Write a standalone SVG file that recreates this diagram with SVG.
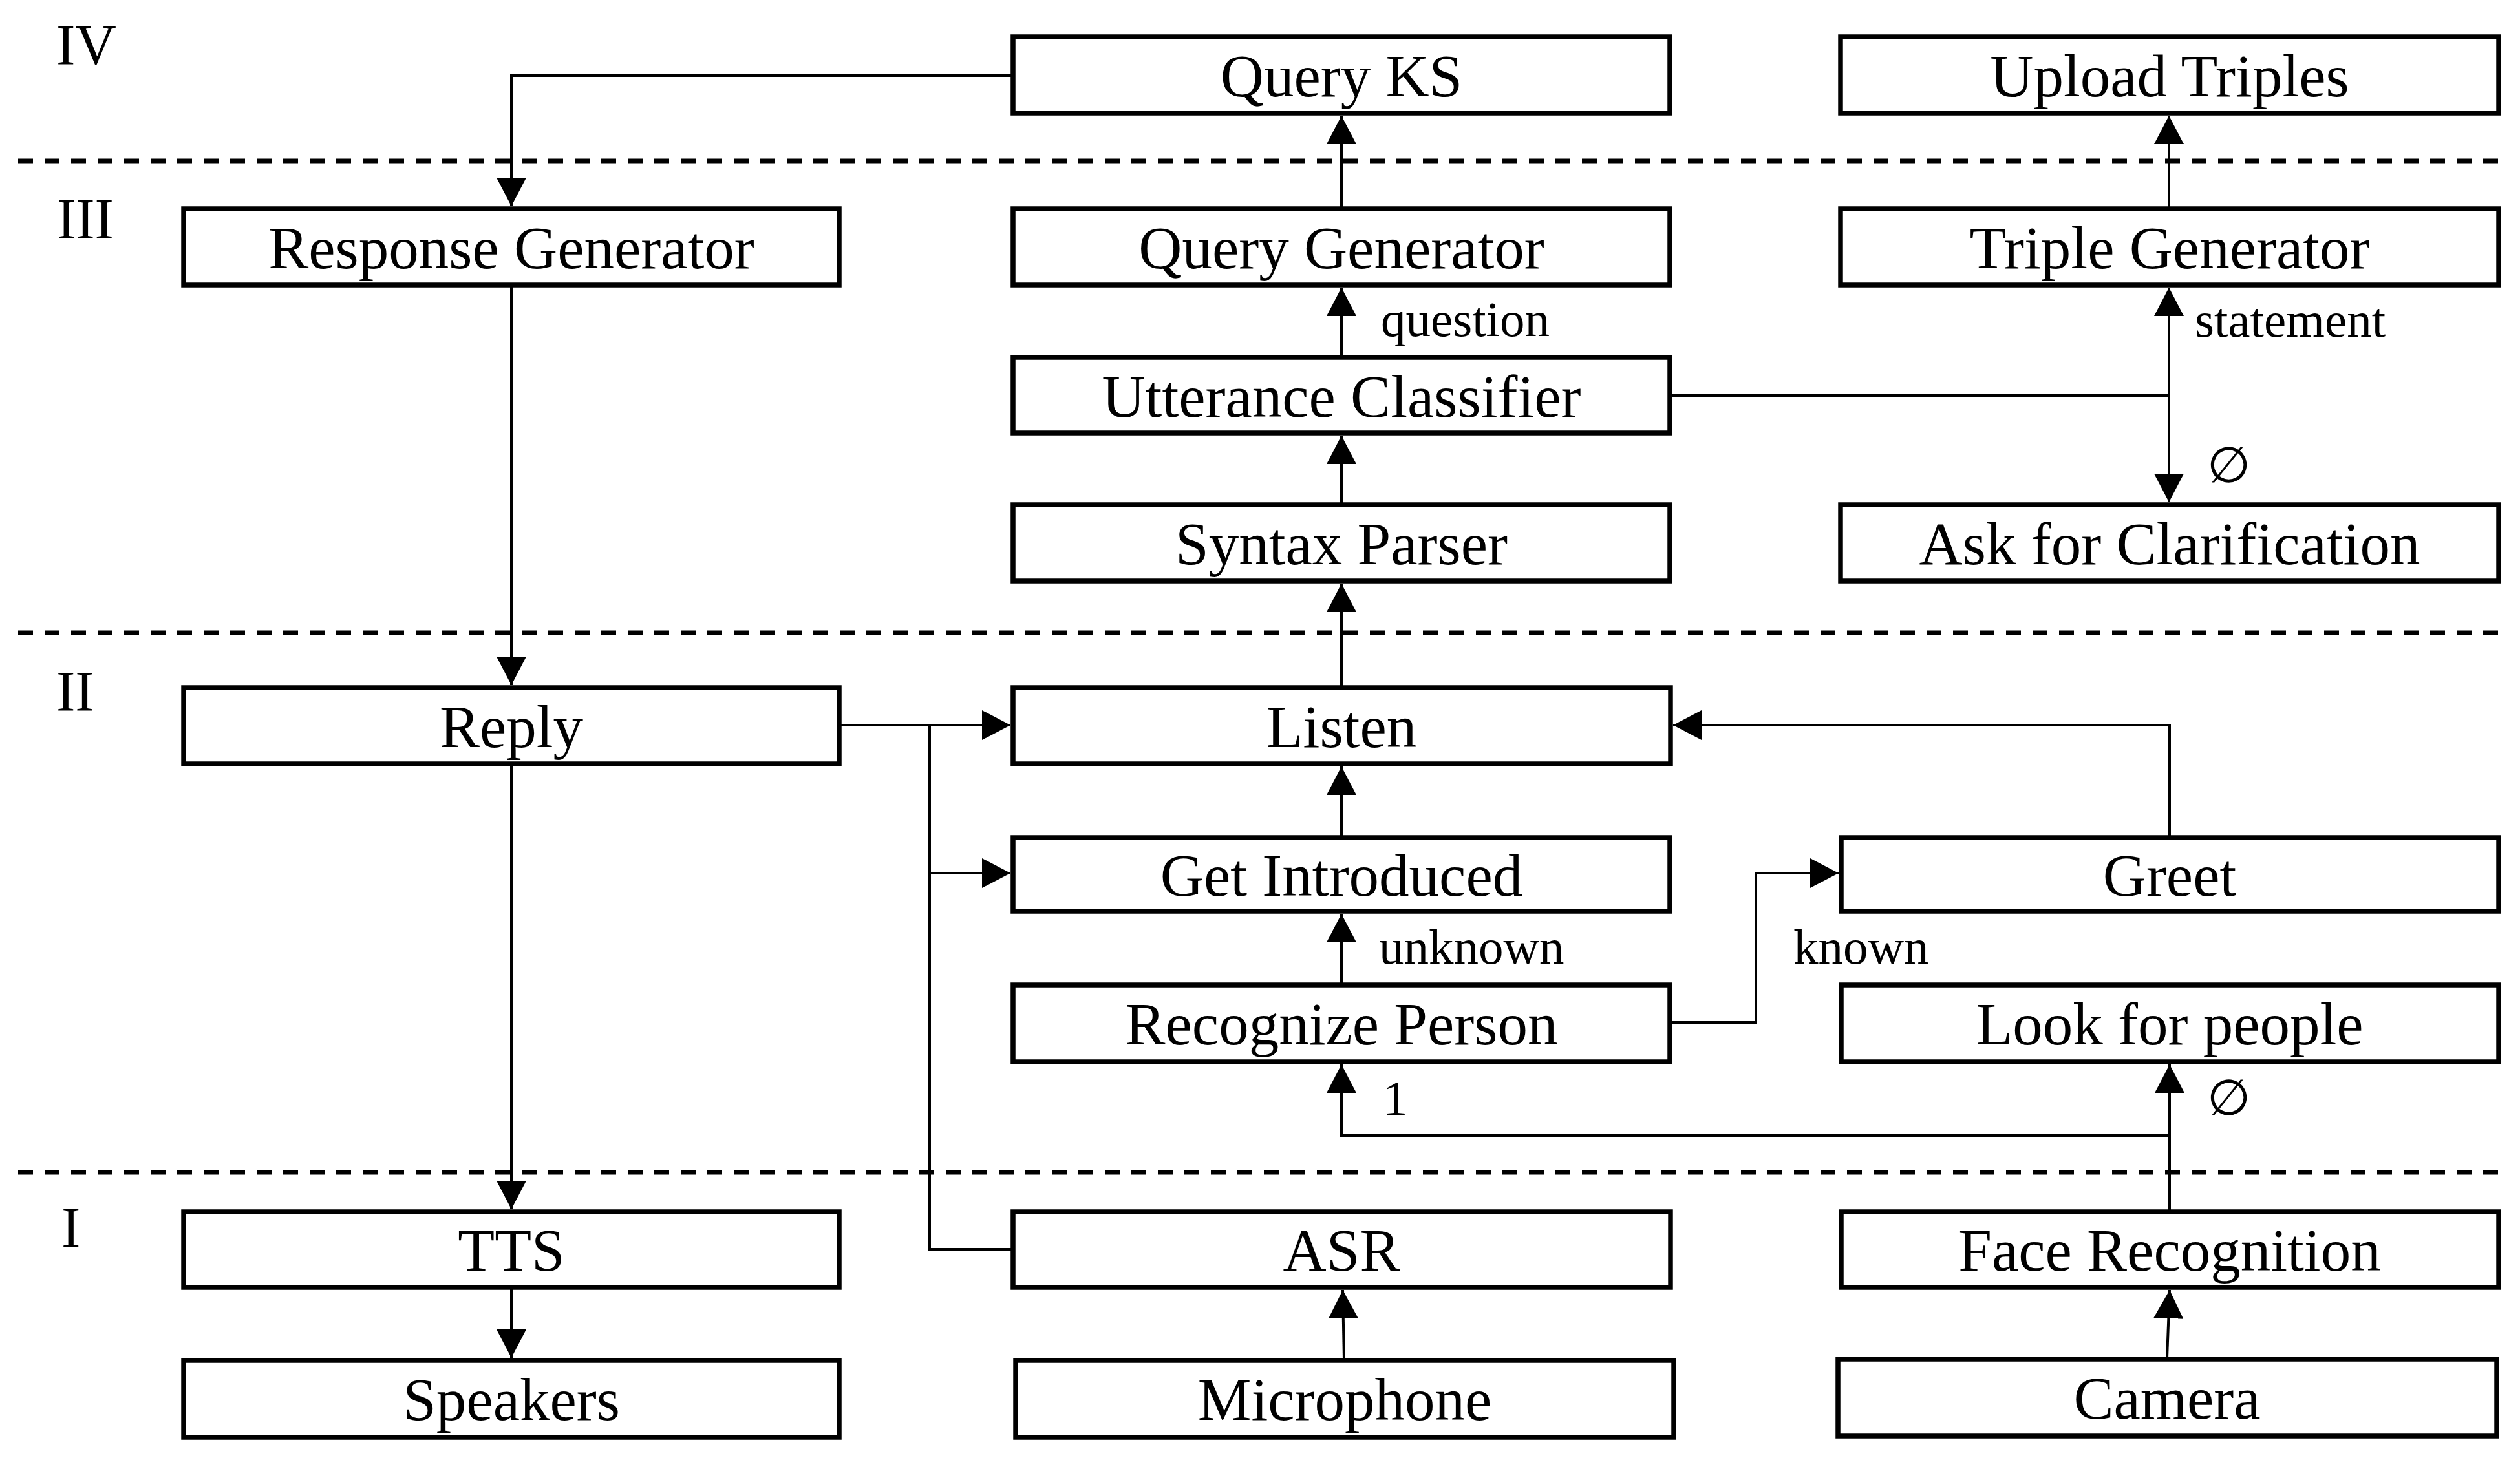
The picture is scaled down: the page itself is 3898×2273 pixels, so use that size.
<svg xmlns="http://www.w3.org/2000/svg" width="3898" height="2273" viewBox="0 0 3898 2273">
<style>
.box{fill:#fff;stroke:#000;stroke-width:7.5}
.t{font-family:"Liberation Serif","DejaVu Serif",serif;font-size:93px;text-anchor:middle;fill:#000}
.lab{font-family:"Liberation Serif","DejaVu Serif",serif;font-size:77px;fill:#000}
.lvl{font-family:"Liberation Serif","DejaVu Serif",serif;font-size:88px;fill:#000}
.c{fill:none;stroke:#000;stroke-width:4}
.dash{stroke:#000;stroke-width:7;stroke-dasharray:23 18}
</style>
<defs>
<marker id="ah" viewBox="0 0 44 46" refX="44" refY="23" markerWidth="44" markerHeight="46" markerUnits="userSpaceOnUse" orient="auto">
<path d="M0,0 L44,23 L0,46 Z" fill="#000"/>
</marker>
</defs>
<rect width="3898" height="2273" fill="#fff"/>
<g id="levels">
<line class="dash" x1="28" y1="249" x2="3870" y2="249"/>
<line class="dash" x1="28" y1="979" x2="3870" y2="979"/>
<line class="dash" x1="28" y1="1814" x2="3870" y2="1814"/>
<text class="lvl" x="87" y="99">IV</text>
<text class="lvl" x="88" y="368">III</text>
<text class="lvl" x="87" y="1099">II</text>
<text class="lvl" x="95" y="1929">I</text>
</g>
<g id="connectors">
<path class="c" d="M1567,117 H791 V319" marker-end="url(#ah)"/>
<path class="c" d="M2075,323 V179" marker-end="url(#ah)"/>
<path class="c" d="M2075,553 V445" marker-end="url(#ah)"/>
<path class="c" d="M2075,781 V674" marker-end="url(#ah)"/>
<path class="c" d="M2075,1064 V903" marker-end="url(#ah)"/>
<path class="c" d="M3355,323 V179" marker-end="url(#ah)"/>
<path class="c" d="M2583,612 H3355 V445" marker-end="url(#ah)"/>
<path class="c" d="M3355,612 V777" marker-end="url(#ah)"/>
<path class="c" d="M791,441 V1060" marker-end="url(#ah)"/>
<path class="c" d="M791,1182 V1871" marker-end="url(#ah)"/>
<path class="c" d="M791,1992 V2101" marker-end="url(#ah)"/>
<path class="c" d="M1298,1122 H1563" marker-end="url(#ah)"/>
<path class="c" d="M1574,1933 H1438 V1122"/>
<path class="c" d="M1438,1351 H1563" marker-end="url(#ah)"/>
<path class="c" d="M2075,1296 V1186" marker-end="url(#ah)"/>
<path class="c" d="M2075,1524 V1414" marker-end="url(#ah)"/>
<path class="c" d="M2583,1582 H2716 V1351 H2844" marker-end="url(#ah)"/>
<path class="c" d="M3356,1296 V1122 H2588" marker-end="url(#ah)"/>
<path class="c" d="M3356,1875 V1647" marker-end="url(#ah)"/>
<path class="c" d="M3356,1757 H2075 V1647" marker-end="url(#ah)"/>
<path class="c" d="M2079,2105 L2077,1996" marker-end="url(#ah)"/>
<path class="c" d="M3352,2102 L3356,1996" marker-end="url(#ah)"/>
<text class="lab" x="2136" y="520">question</text>
<text class="lab" x="3395" y="521">statement</text>
<text class="lab" x="3414" y="746">∅</text>
<text class="lab" x="2133" y="1491">unknown</text>
<text class="lab" x="2774" y="1491">known</text>
<text class="lab" x="2139" y="1725">1</text>
<text class="lab" x="3414" y="1725">∅</text>
</g>
<g id="query-ks"><rect class="box" x="1567" y="57" width="1016" height="118"/><text class="t" x="2075" y="149">Query KS</text></g>
<g id="upload-triples"><rect class="box" x="2847" y="57" width="1018" height="118"/><text class="t" x="3356" y="149">Upload Triples</text></g>
<g id="response-generator"><rect class="box" x="284" y="323" width="1014" height="118"/><text class="t" x="791" y="415">Response Generator</text></g>
<g id="query-generator"><rect class="box" x="1567" y="323" width="1016" height="118"/><text class="t" x="2075" y="415">Query Generator</text></g>
<g id="triple-generator"><rect class="box" x="2847" y="323" width="1018" height="118"/><text class="t" x="3356" y="415">Triple Generator</text></g>
<g id="utterance-classifier"><rect class="box" x="1567" y="553" width="1016" height="117"/><text class="t" x="2075" y="645">Utterance Classifier</text></g>
<g id="syntax-parser"><rect class="box" x="1567" y="781" width="1016" height="118"/><text class="t" x="2075" y="873">Syntax Parser</text></g>
<g id="ask-for-clarification"><rect class="box" x="2847" y="781" width="1018" height="118"/><text class="t" x="3356" y="873">Ask for Clarification</text></g>
<g id="reply"><rect class="box" x="284" y="1064" width="1014" height="118"/><text class="t" x="791" y="1156">Reply</text></g>
<g id="listen"><rect class="box" x="1567" y="1064" width="1017" height="118"/><text class="t" x="2075" y="1156">Listen</text></g>
<g id="get-introduced"><rect class="box" x="1567" y="1296" width="1016" height="114"/><text class="t" x="2075" y="1386">Get Introduced</text></g>
<g id="greet"><rect class="box" x="2848" y="1296" width="1017" height="114"/><text class="t" x="3356" y="1386">Greet</text></g>
<g id="recognize-person"><rect class="box" x="1567" y="1524" width="1016" height="119"/><text class="t" x="2075" y="1616">Recognize Person</text></g>
<g id="look-for-people"><rect class="box" x="2848" y="1524" width="1017" height="119"/><text class="t" x="3356" y="1616">Look for people</text></g>
<g id="tts"><rect class="box" x="284" y="1875" width="1014" height="117"/><text class="t" x="791" y="1966">TTS</text></g>
<g id="asr"><rect class="box" x="1567" y="1875" width="1017" height="117"/><text class="t" x="2075" y="1966">ASR</text></g>
<g id="face-recognition"><rect class="box" x="2848" y="1875" width="1017" height="117"/><text class="t" x="3356" y="1966">Face Recognition</text></g>
<g id="speakers"><rect class="box" x="284" y="2105" width="1014" height="119"/><text class="t" x="791" y="2197">Speakers</text></g>
<g id="microphone"><rect class="box" x="1571" y="2105" width="1018" height="119"/><text class="t" x="2080" y="2197">Microphone</text></g>
<g id="camera"><rect class="box" x="2843" y="2103" width="1019" height="119"/><text class="t" x="3352" y="2195">Camera</text></g>
</svg>
